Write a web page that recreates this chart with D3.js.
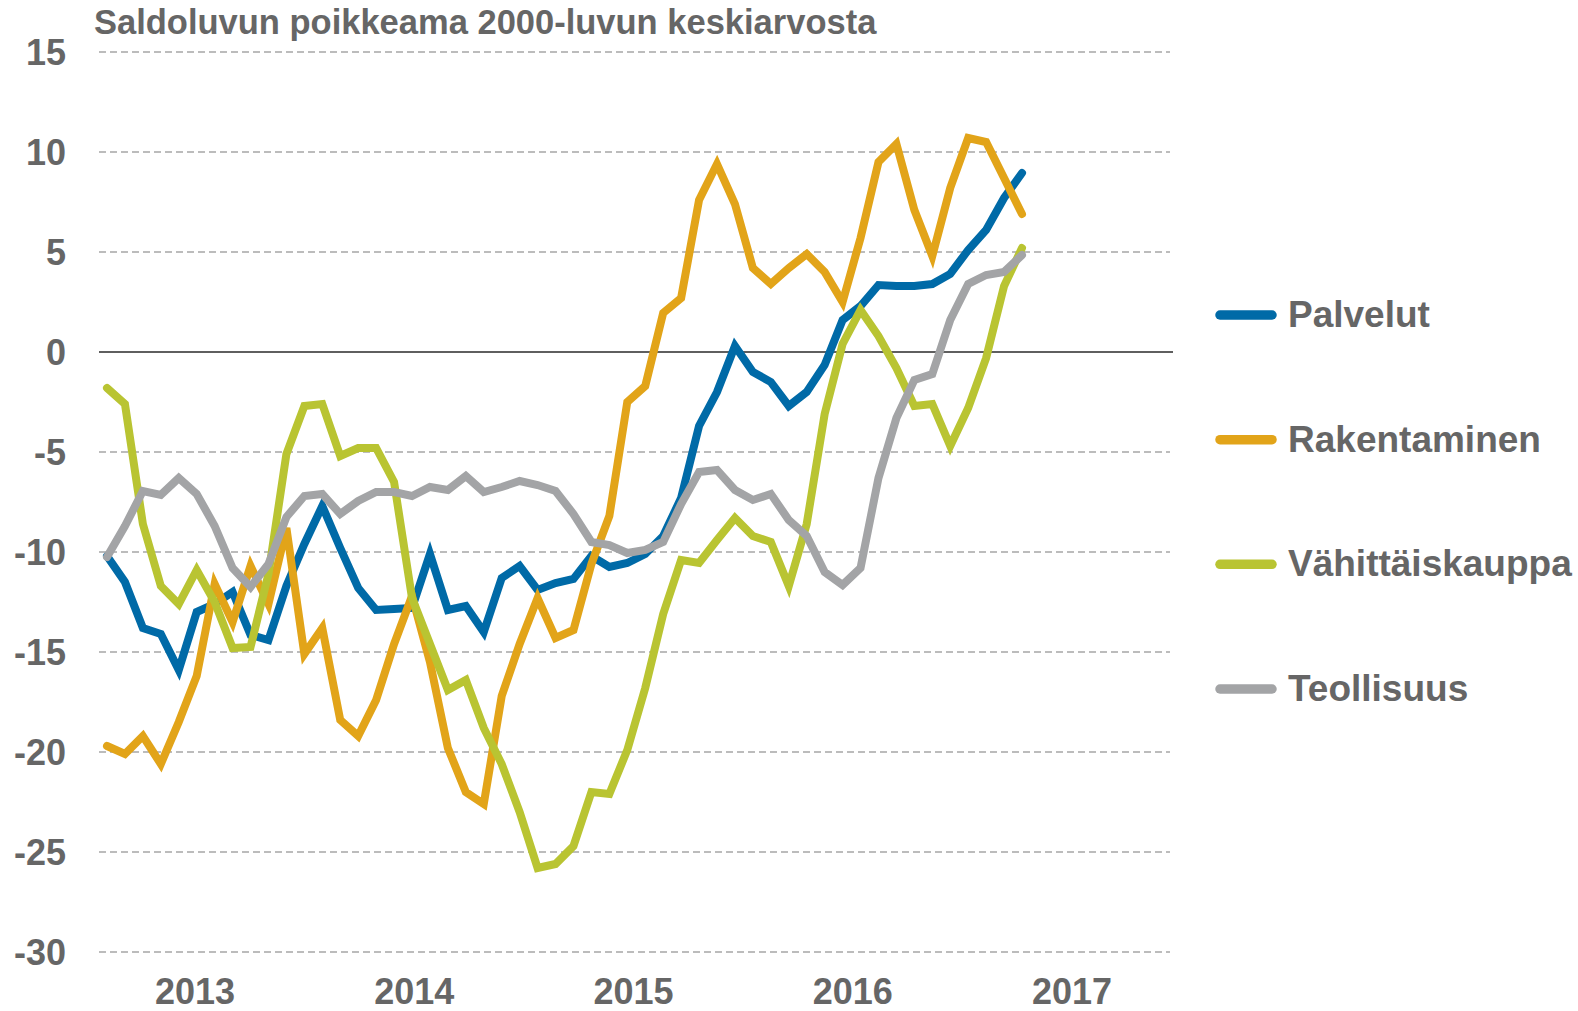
<!DOCTYPE html>
<html>
<head>
<meta charset="utf-8">
<script src="https://cdn.jsdelivr.net/npm/d3@7"></script>
<style>
  body { margin: 0; background: #ffffff; }
  svg text { font-family: 'Liberation Sans', Arial, sans-serif; font-weight: bold; fill: #666666; }
</style>
</head>
<body>
<svg id="chart"></svg>
<script>
const chartTitle = 'Saldoluvun poikkeama 2000-luvun keskiarvosta';

// monthly observations, 7/2012 - 10/2016
const months = d3.timeMonth.range(new Date(2012, 6, 1), new Date(2016, 10, 1));
const yearLabels = [2013, 2014, 2015, 2016, 2017];
const yTicks = [15, 10, 5, 0, -5, -10, -15, -20, -25, -30];

const seriesNames = ['Palvelut', 'Rakentaminen', 'Vähittäiskauppa', 'Teollisuus'];
const seriesColors = ['#006aa7', '#e2a419', '#b9c432', '#a3a4a6'];

const palvelut = [-10.2, -11.5, -13.8, -14.1, -15.9, -13.0, -12.6, -12.0, -14.15, -14.4,
    -11.7, -9.6, -7.7, -9.8, -11.8, -12.9, -12.85, -12.8, -10.1, -12.9,
    -12.7, -14.0, -11.3, -10.7, -11.9, -11.55, -11.35, -10.2, -10.75, -10.55,
    -10.1, -9.2, -7.3, -3.7, -2.0, 0.3, -1.0, -1.5, -2.7, -2.0,
    -0.65, 1.6, 2.3, 3.35, 3.3, 3.3, 3.4, 3.9, 5.1, 6.1,
    7.7, 8.95];

const rakentaminen = [-19.7, -20.1, -19.2, -20.6, -18.5, -16.2, -11.6, -13.5, -10.7, -12.6,
    -8.8, -15.1, -13.8, -18.4, -19.2, -17.4, -14.6, -12.2, -15.5, -19.8,
    -22.0, -22.6, -17.2, -14.6, -12.3, -14.3, -13.9, -10.6, -8.2, -2.5,
    -1.7, 1.95, 2.7, 7.6, 9.4, 7.4, 4.2, 3.4, 4.2, 4.9,
    4.0, 2.5, 5.7, 9.5, 10.4, 7.1, 4.8, 8.2, 10.7, 10.5,
    8.7, 6.9];

const vahittaiskauppa = [-1.8, -2.6, -8.6, -11.7, -12.6, -10.9, -12.5, -14.8, -14.75, -11.1,
    -5.1, -2.7, -2.6, -5.2, -4.8, -4.8, -6.5, -12.3, -14.6, -16.9,
    -16.4, -18.8, -20.6, -23.0, -25.8, -25.6, -24.7, -22.0, -22.1, -19.9,
    -16.8, -13.1, -10.4, -10.55, -9.4, -8.3, -9.2, -9.5, -11.7, -8.6,
    -3.1, 0.4, 2.1, 0.8, -0.8, -2.7, -2.6, -4.7, -2.8, -0.3,
    3.3, 5.2];

const teollisuus = [-10.25, -8.7, -6.95, -7.15, -6.3, -7.1, -8.7, -10.8, -11.75, -10.6,
    -8.25, -7.2, -7.1, -8.1, -7.45, -7.0, -7.0, -7.2, -6.75, -6.9,
    -6.2, -7.0, -6.75, -6.45, -6.65, -6.95, -8.1, -9.5, -9.65, -10.05,
    -9.9, -9.5, -7.6, -6.0, -5.9, -6.9, -7.4, -7.1, -8.4, -9.2,
    -11.0, -11.65, -10.8, -6.3, -3.3, -1.4, -1.1, 1.6, 3.4, 3.85,
    4.0, 4.85];

const seriesValues = [palvelut, rakentaminen, vahittaiskauppa, teollisuus];

const width = 1578, height = 1011;

const svg = d3.select('#chart')
    .attr('width', width)
    .attr('height', height);

svg.append('rect')
    .attr('width', width)
    .attr('height', height)
    .attr('fill', '#ffffff');

const x = d3.scalePoint()
    .domain(months.map(d => +d))
    .range([107, 1022]);

// year labels in the original sit on their own spacing, not on the month points
const xYear = d3.scaleLinear()
    .domain([2013, 2017])
    .range([195, 1072]);

const y = d3.scaleLinear()
    .domain([-30, 15])
    .range([952, 52]);

// dashed gridlines
svg.append('g').selectAll('line')
    .data(yTicks.filter(d => d !== 0))
    .enter().append('line')
    .attr('x1', 99)
    .attr('x2', 1170)
    .attr('y1', d => y(d))
    .attr('y2', d => y(d))
    .attr('stroke', '#a6a6a6')
    .attr('stroke-width', 1.5)
    .attr('stroke-dasharray', '7,4');

// zero line
svg.append('line')
    .attr('x1', 99)
    .attr('x2', 1173)
    .attr('y1', y(0))
    .attr('y2', y(0))
    .attr('stroke', '#5f5f5f')
    .attr('stroke-width', 2);

// y tick labels
svg.append('g').selectAll('text')
    .data(yTicks)
    .enter().append('text')
    .attr('x', 66)
    .attr('y', d => y(d))
    .attr('dy', '0.36em')
    .attr('text-anchor', 'end')
    .attr('font-size', '36px')
    .text(d => d);

// year labels
svg.append('g').selectAll('text')
    .data(yearLabels)
    .enter().append('text')
    .attr('x', d => xYear(d))
    .attr('y', 1004)
    .attr('text-anchor', 'middle')
    .attr('font-size', '36px')
    .text(d => d);

svg.append('text')
    .attr('x', 94)
    .attr('y', 34)
    .attr('font-size', '34.5px')
    .text(chartTitle);

const line = d3.line()
    .x((d, i) => x(+months[i]))
    .y(d => y(d));

svg.append('g').selectAll('path')
    .data(seriesValues)
    .enter().append('path')
    .attr('d', d => line(d))
    .attr('fill', 'none')
    .attr('stroke', (d, i) => seriesColors[i])
    .attr('stroke-width', 8)
    .attr('stroke-linejoin', 'miter')
    .attr('stroke-linecap', 'round');

// legend
const legendY = d3.scalePoint()
    .domain(seriesNames)
    .range([315, 689]);

const legend = svg.append('g').selectAll('g')
    .data(seriesNames)
    .enter().append('g')
    .attr('transform', d => 'translate(0,' + legendY(d) + ')');

legend.append('line')
    .attr('x1', 1220)
    .attr('x2', 1272)
    .attr('stroke', (d, i) => seriesColors[i])
    .attr('stroke-width', 9.5)
    .attr('stroke-linecap', 'round');

legend.append('text')
    .attr('x', 1288)
    .attr('y', 12)
    .attr('font-size', '37px')
    .text(d => d);
</script>
</body>
</html>
